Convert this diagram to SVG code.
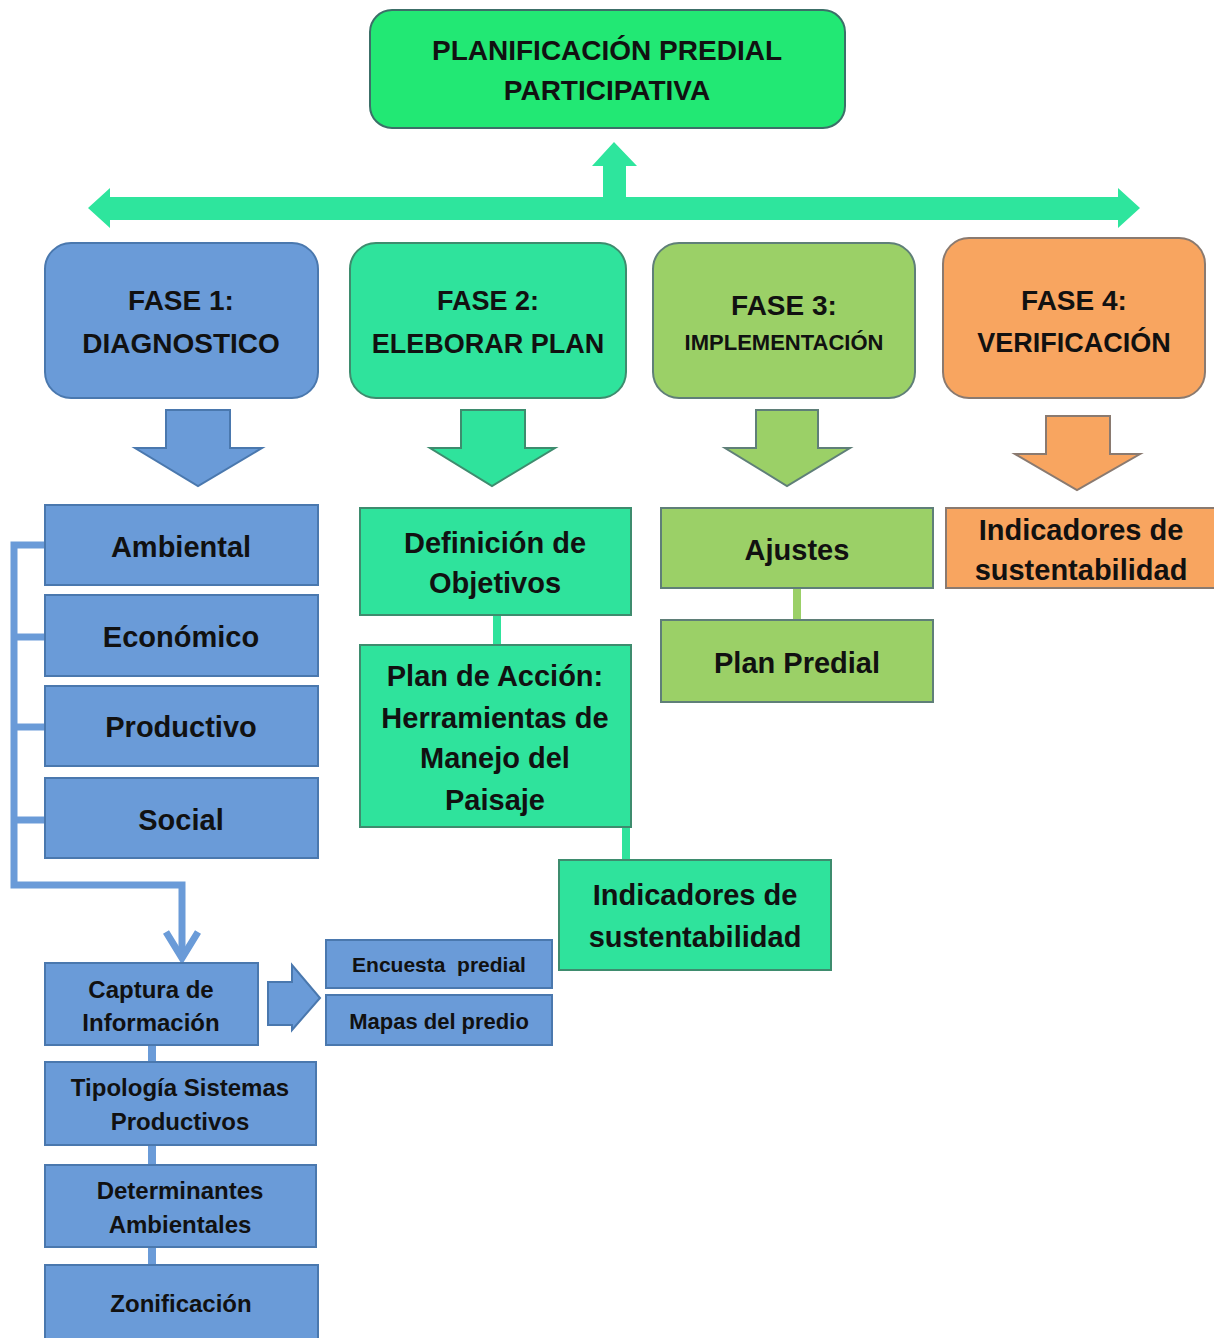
<svg xmlns="http://www.w3.org/2000/svg" width="1214" height="1338" viewBox="0 0 1214 1338">
<style>
text{font-family:"Liberation Sans",Arial,sans-serif;font-weight:bold;fill:#111;text-anchor:middle}
.blue{fill:#6A9BD8;stroke:#4A78AE;stroke-width:2}
.mint{fill:#2FE39C;stroke:#3E8C6E;stroke-width:2}
.lg{fill:#9BD067;stroke:#5F7F78;stroke-width:2}
.or{fill:#F8A560;stroke:#8A7A70;stroke-width:2}
.top{fill:#22E874;stroke:#3C6F68;stroke-width:2}
.f28{font-size:28px}.f29{font-size:29px}.f24{font-size:24px}.f22{font-size:22px}
</style>
<rect width="1214" height="1338" fill="#fff"/>
<g id="connectors">
  <!-- horizontal double arrow -->
  <polygon fill="#2EE59D" points="88,208 110,188 110,197 1118,197 1118,188 1140,208 1118,228 1118,220 110,220 110,228"/>
  <!-- up arrow -->
  <polygon fill="#2EE59D" points="603,200 603,166 592,166 614,142 637,166 626,166 626,200"/>
  <!-- block down arrows -->
  <polygon class="blue" points="166,410 230,410 230,448 262,448 198,486 135,448 166,448"/>
  <polygon class="mint" stroke="#3E8C6E" points="461,410 525,410 525,448 555,448 492,486 430,448 461,448"/>
  <polygon class="lg" points="756,410 818,410 818,448 850,448 787,486 725,448 756,448"/>
  <polygon class="or" points="1046,416 1110,416 1110,454 1140,454 1077,490 1015,454 1046,454"/>
  <!-- bracket fase 1 -->
  <g fill="none" stroke="#6A9BD8" stroke-width="7">
    <polyline points="45,545 14,545 14,885 182,885 182,955"/>
    <line x1="14" y1="637" x2="45" y2="637"/>
    <line x1="14" y1="727" x2="45" y2="727"/>
    <line x1="14" y1="820" x2="45" y2="820"/>
    <polyline points="166,932 182,958 198,932"/>
  </g>
  <!-- right block arrow -->
  <polygon class="blue" points="268,982 292,982 292,965 320,998 292,1030 292,1025 268,1025"/>
  <!-- vertical connectors -->
  <g stroke-width="8">
    <line x1="152" y1="1045" x2="152" y2="1062" stroke="#6A9BD8"/>
    <line x1="152" y1="1145" x2="152" y2="1165" stroke="#6A9BD8"/>
    <line x1="152" y1="1247" x2="152" y2="1265" stroke="#6A9BD8"/>
    <line x1="497" y1="615" x2="497" y2="645" stroke="#2FE39C"/>
    <line x1="626" y1="827" x2="626" y2="860" stroke="#2FE39C"/>
    <line x1="797" y1="588" x2="797" y2="620" stroke="#9BD067"/>
  </g>
</g>
<g id="planificacion">
  <rect class="top" x="370" y="10" width="475" height="118" rx="22"/>
  <text class="f28" x="607" y="60" font-size="27">PLANIFICACIÓN PREDIAL</text>
  <text class="f28" x="607" y="100" font-size="27">PARTICIPATIVA</text>
</g>
<g id="fase1">
  <rect class="blue" x="45" y="243" width="273" height="155" rx="26"/>
  <text class="f28" x="181" y="310">FASE 1:</text>
  <text class="f28" x="181" y="353">DIAGNOSTICO</text>
</g>
<g id="fase2">
  <rect class="mint" x="350" y="243" width="276" height="155" rx="26"/>
  <text x="488" y="310" style="font-size:27px">FASE 2:</text>
  <text x="488" y="353" style="font-size:27px">ELEBORAR PLAN</text>
</g>
<g id="fase3">
  <rect class="lg" x="653" y="243" width="262" height="155" rx="26"/>
  <text class="f28" x="784" y="315">FASE 3:</text>
  <text class="f22" x="784" y="350">IMPLEMENTACIÓN</text>
</g>
<g id="fase4">
  <rect class="or" x="943" y="238" width="262" height="160" rx="26"/>
  <text class="f28" x="1074" y="310">FASE 4:</text>
  <text x="1074" y="352" style="font-size:27px">VERIFICACIÓN</text>
</g>
<g id="ambiental">
  <rect class="blue" x="45" y="505" width="273" height="80"/>
  <text class="f29" x="181" y="557">Ambiental</text>
</g>
<g id="economico">
  <rect class="blue" x="45" y="595" width="273" height="81"/>
  <text class="f29" x="181" y="647">Económico</text>
</g>
<g id="productivo">
  <rect class="blue" x="45" y="686" width="273" height="80"/>
  <text class="f29" x="181" y="737">Productivo</text>
</g>
<g id="social">
  <rect class="blue" x="45" y="778" width="273" height="80"/>
  <text class="f29" x="181" y="830">Social</text>
</g>
<g id="captura">
  <rect class="blue" x="45" y="963" width="213" height="82"/>
  <text class="f24" x="151" y="998">Captura de</text>
  <text class="f24" x="151" y="1031">Información</text>
</g>
<g id="encuesta">
  <rect class="blue" x="326" y="940" width="226" height="48"/>
  <text x="439" y="972" style="font-size:21px" xml:space="preserve">Encuesta  predial</text>
</g>
<g id="mapas">
  <rect class="blue" x="326" y="995" width="226" height="50"/>
  <text class="f22" x="439" y="1029">Mapas del predio</text>
</g>
<g id="tipologia">
  <rect class="blue" x="45" y="1062" width="271" height="83"/>
  <text class="f24" x="180" y="1096">Tipología Sistemas</text>
  <text class="f24" x="180" y="1130">Productivos</text>
</g>
<g id="determinantes">
  <rect class="blue" x="45" y="1165" width="271" height="82"/>
  <text class="f24" x="180" y="1199">Determinantes</text>
  <text class="f24" x="180" y="1233">Ambientales</text>
</g>
<g id="zonificacion">
  <rect class="blue" x="45" y="1265" width="273" height="80"/>
  <text class="f24" x="181" y="1312">Zonificación</text>
</g>
<g id="definicion">
  <rect class="mint" x="360" y="508" width="271" height="107"/>
  <text class="f29" x="495" y="553">Definición de</text>
  <text class="f29" x="495" y="593">Objetivos</text>
</g>
<g id="plan-accion">
  <rect class="mint" x="360" y="645" width="271" height="182"/>
  <text class="f29" x="495" y="686">Plan de Acción:</text>
  <text class="f29" x="495" y="728">Herramientas de</text>
  <text class="f29" x="495" y="768">Manejo del</text>
  <text class="f29" x="495" y="810">Paisaje</text>
</g>
<g id="indicadores-f2">
  <rect class="mint" x="559" y="860" width="272" height="110"/>
  <text class="f29" x="695" y="905">Indicadores de</text>
  <text class="f29" x="695" y="947">sustentabilidad</text>
</g>
<g id="ajustes">
  <rect class="lg" x="661" y="508" width="272" height="80"/>
  <text class="f29" x="797" y="560">Ajustes</text>
</g>
<g id="plan-predial">
  <rect class="lg" x="661" y="620" width="272" height="82"/>
  <text class="f29" x="797" y="673">Plan Predial</text>
</g>
<g id="indicadores-f4">
  <rect class="or" x="946" y="508" width="270" height="80"/>
  <text class="f29" x="1081" y="540">Indicadores de</text>
  <text class="f29" x="1081" y="580">sustentabilidad</text>
</g>
</svg>
